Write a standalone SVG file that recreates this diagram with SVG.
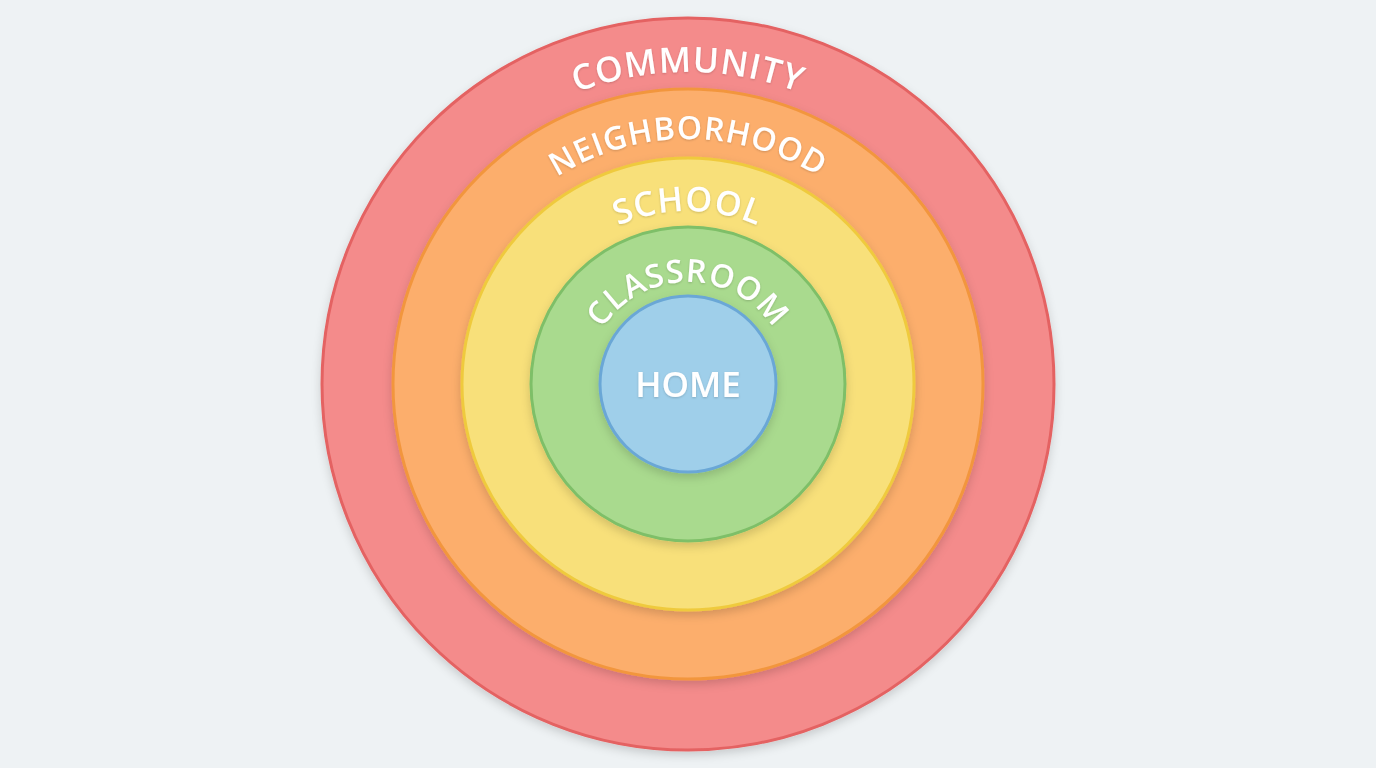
<svg xmlns="http://www.w3.org/2000/svg" width="1376" height="768" viewBox="0 0 1376 768">
  <defs>
    <filter id="shadow" x="-10%" y="-10%" width="120%" height="125%">
      <feDropShadow dx="0" dy="4" stdDeviation="5" flood-color="#000" flood-opacity="0.16"/>
    </filter>
    <filter id="tshadow" x="-10%" y="-20%" width="120%" height="160%">
      <feDropShadow dx="0" dy="1" stdDeviation="1" flood-color="#000" flood-opacity="0.18"/>
    </filter>
    <path id="arcCommunity" d="M 376 384 A 312 312 0 0 1 1000 384"/>
    <path id="arcNeighborhood" d="M 443 384 A 245 245 0 0 1 933 384"/>
    <path id="arcSchool" d="M 515 384 A 173 173 0 0 1 861 384"/>
    <path id="arcClassroom" d="M 586 384 A 102 102 0 0 1 790 384"/>
  </defs>
  <style>
    .ring { stroke-width: 3; filter: url(#shadow); }
    .lbl { font-family: "Open Sans", "Liberation Sans", sans-serif; font-weight: 600; fill: #ffffff; filter: url(#tshadow); }
  </style>
  <rect width="1376" height="768" fill="#eef2f4"/>
  <g id="community">
    <circle class="ring" cx="688" cy="384" r="366" fill="#f48b8b" stroke="#e46262"/>
    <text class="lbl" font-size="35" letter-spacing="1"><textPath href="#arcCommunity" startOffset="50%" text-anchor="middle">COMMUNITY</textPath></text>
  </g>
  <g id="neighborhood">
    <circle class="ring" cx="688" cy="384" r="295" fill="#fcae6c" stroke="#f2963e"/>
    <text class="lbl" font-size="32" letter-spacing="1"><textPath href="#arcNeighborhood" startOffset="50%" text-anchor="middle">NEIGHBORHOOD</textPath></text>
  </g>
  <g id="school">
    <circle class="ring" cx="688" cy="384" r="226" fill="#f8e07a" stroke="#efca3e"/>
    <text class="lbl" font-size="34" letter-spacing="1"><textPath href="#arcSchool" startOffset="50%" text-anchor="middle">SCHOOL</textPath></text>
  </g>
  <g id="classroom">
    <circle class="ring" cx="688" cy="384" r="157" fill="#a9da8e" stroke="#7ebf68"/>
    <text class="lbl" font-size="32" letter-spacing="1"><textPath href="#arcClassroom" startOffset="50%" text-anchor="middle">CLASSROOM</textPath></text>
  </g>
  <g id="home">
    <circle class="ring" cx="688" cy="384" r="88" fill="#9fcfea" stroke="#6aa7d6"/>
    <text class="lbl" x="688" y="397" font-size="35" text-anchor="middle">HOME</text>
  </g>
</svg>
